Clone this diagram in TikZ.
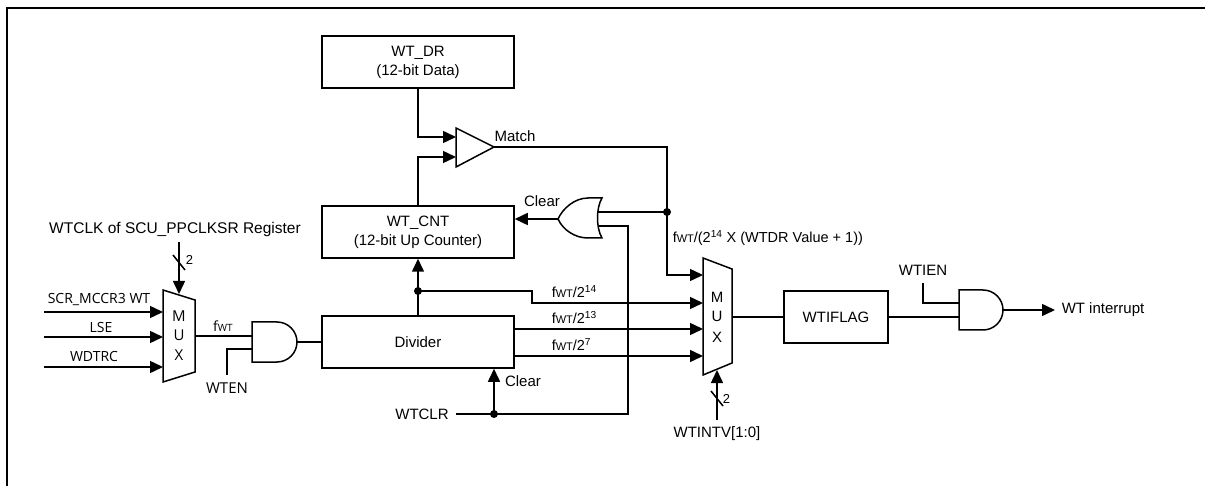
\documentclass[tikz,border=0pt]{standalone}
\usepackage{fontspec}
\setmainfont{Liberation Sans}
\newfontfamily\osfont{Open Sans}
\usetikzlibrary{arrows.meta}
\newcommand{\fwt}{f{\fontsize{11}{11}\selectfont WT}}

\begin{document}
\begin{tikzpicture}[x=1pt,y=-1pt,line width=1.5pt,
    regbox/.style={draw,minimum width=192pt,minimum height=52pt,inner sep=0pt,align=center,font=\fontsize{15}{19}\selectfont},
    lbl/.style={inner sep=0pt,anchor=base,font=\fontsize{15}{15}\selectfont},
    flbl/.style={inner sep=0pt,anchor=base west,font=\fontsize{14.5}{14.5}\selectfont},
    oslbl/.style={inner sep=0pt,anchor=base,font=\osfont\fontsize{14}{14}\selectfont},
    muxlbl/.style={inner sep=0pt,anchor=base,font=\osfont\fontsize{15}{15}\selectfont},
    sig/.style={-{Triangle[length=13pt,width=12pt]}}]
    \useasboundingbox (0,0) rectangle (1205,486);

    % frame
    \draw[line width=2.4pt] (7,486) -- (7,8) -- (1205,8);

    % registers
    \node[regbox] (wtdr) at (418,62) {WT\_DR\\(12-bit Data)};
    \node[regbox] (wtcnt) at (418,232) {WT\_CNT\\(12-bit Up Counter)};
    \node[regbox] (divider) at (418,342) {Divider};
    \node[regbox,minimum width=104pt] (flag) at (836,317) {WTIFLAG};

    % clock source mux
    \draw (163,290) -- (195,300) -- (195,372) -- (163,382) -- cycle;
    \node[muxlbl] (m1m) at (179,322) {M};
    \node[muxlbl] (m1u) at (179,341) {U};
    \node[muxlbl] (m1x) at (179,360) {X};
    \coordinate (m1a) at (163,312);
    \coordinate (m1b) at (163,337);
    \coordinate (m1c) at (163,367);
    \coordinate (m1out) at (195,336);
    \coordinate (m1sel) at (179,294);

    % enable gate
    \draw (252,322) -- (277,322) .. controls (288,322) and (297,331) .. (297,342)
        .. controls (297,353) and (288,362) .. (277,362) -- (252,362) -- cycle;
    \coordinate (a1in1) at (252,336);
    \coordinate (a1in2) at (252,349);
    \coordinate (a1out) at (297,342);

    % comparator
    \draw (456,128) -- (494,147) -- (456,167) -- cycle;
    \coordinate (cmpA) at (456,137);
    \coordinate (cmpB) at (456,157);
    \coordinate (cmpOut) at (494,147);

    % clear gate
    \draw (602,198) -- (588,198) .. controls (575,198) and (563,208) .. (558,219)
        .. controls (563,230) and (575,238) .. (588,238) -- (602,238)
        .. controls (596,228) and (596,208) .. (602,198) -- cycle;
    \coordinate (orOut) at (558,219);
    \coordinate (orIn1) at (598,212);
    \coordinate (orIn2) at (598,226);

    % interval mux
    \draw (703,258) -- (732,269) -- (732,363) -- (703,375) -- cycle;
    \node[lbl] (m2m) at (717,303) {M};
    \node[lbl] (m2u) at (717,322) {U};
    \node[lbl] (m2x) at (717,342) {X};
    \coordinate (m2a) at (703,275);
    \coordinate (m2b) at (703,303);
    \coordinate (m2c) at (703,329);
    \coordinate (m2d) at (703,356);
    \coordinate (m2out) at (732,317);
    \coordinate (m2sel) at (717,370);

    % interrupt gate
    \draw (959,290) -- (983,290) .. controls (994,290) and (1003,299) .. (1003,310)
        .. controls (1003,321) and (994,330) .. (983,330) -- (959,330) -- cycle;
    \coordinate (a2in1) at (959,303);
    \coordinate (a2in2) at (959,317);
    \coordinate (a2out) at (1003,310);

    % junctions
    \coordinate (dDiv) at (418,291);
    \coordinate (dClr) at (494,414);
    \coordinate (dMatch) at (667,212);
    \fill (dDiv) circle (4pt);
    \fill (dClr) circle (4pt);
    \fill (dMatch) circle (4pt);

    % labels
    \node[lbl,font=\fontsize{15.5}{15.5}\selectfont] (wtclk) at (175,234) {WTCLK of SCU\_PPCLKSR Register};
    \node[oslbl] (lscr) at (99,304) {SCR\_MCCR3 WT};
    \node[oslbl] (llse) at (101,333) {LSE};
    \node[oslbl] (lwdt) at (94,362) {WDTRC};
    \node[oslbl] (lfwt) at (223,332) {f{\fontsize{10}{10}\selectfont WT}};
    \node[oslbl,font=\osfont\fontsize{15}{15}\selectfont] (lwten) at (227,393) {WTEN};
    \node[inner sep=0pt,anchor=base west,font=\fontsize{13}{13}\selectfont] (lbus1) at (185,265) {2};
    \node[lbl] (lmatch) at (515,142) {Match};
    \node[lbl] (lclr1) at (542,207) {Clear};
    \node[lbl] (lclr2) at (523,386) {Clear};
    \node[lbl] (lwtclr) at (422,419) {WTCLR};
    \node[flbl] (lf14) at (551,298) {\fwt/2\textsuperscript{14}};
    \node[flbl] (lf13) at (551,324) {\fwt/2\textsuperscript{13}};
    \node[flbl] (lf7) at (551,351) {\fwt/2\textsuperscript{7}};
    \node[flbl] (lfm) at (672,243) {\fwt/(2\textsuperscript{14} X (WTDR Value + 1))};
    \node[inner sep=0pt,anchor=base west,font=\fontsize{13}{13}\selectfont] (lbus2) at (722,403) {2};
    \node[lbl] (lintv) at (717,437) {WTINTV[1:0]};
    \node[lbl] (lwtien) at (923,276) {WTIEN};
    \node[inner sep=0pt,anchor=base west,font=\fontsize{15}{15}\selectfont] (lint) at (1061,314) {WT interrupt};

    % clock inputs
    \draw[sig] (44,312) -- (m1a);
    \draw[sig] (44,337) -- (m1b);
    \draw[sig] (44,367) -- (m1c);
    \draw[sig] (179,242) -- (m1sel);
    \draw (173,255) -- (185,270);
    \draw (m1out) -- (a1in1);
    \draw (227,375) |- (a1in2);
    \draw (a1out) -- (divider.west |- a1out);

    % counter and compare
    \draw[sig] (wtdr.south) |- (cmpA);
    \draw[sig] (wtcnt.north) |- (cmpB);
    \draw[sig] (cmpOut) -| (dMatch) |- (m2a);
    \draw (dMatch) -- (orIn1);
    \draw[sig] (orOut) -- (orOut -| wtcnt.east);
    \draw (divider.north) -- (dDiv);
    \draw[sig] (dDiv) -- (wtcnt.south);

    % clear
    \draw (456,414) -- (628,414) |- (orIn2);
    \draw[sig] (dClr) -- (dClr |- divider.south);

    % divider taps
    \draw[sig] (dDiv) -- (532,291) |- (m2b);
    \draw[sig] (divider.east |- m2c) -- (m2c);
    \draw[sig] (divider.east |- m2d) -- (m2d);

    % interrupt path
    \draw[sig] (717,420) -- (m2sel);
    \draw (711,391) -- (723,406);
    \draw (m2out) -- (flag.west |- m2out);
    \draw (flag.east) -- (a2in2);
    \draw (923,283) |- (a2in1);
    \draw[sig] (a2out) -- (1055,310);
\end{tikzpicture}
\end{document}
